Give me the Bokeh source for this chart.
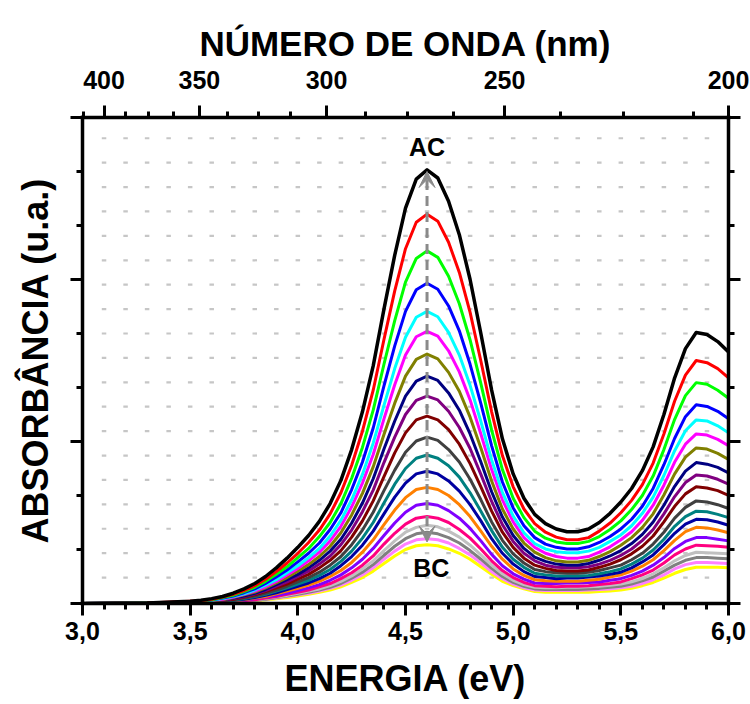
import numpy as np
from bokeh.plotting import figure
from bokeh.models import (LinearAxis, FixedTicker, CustomJSTickFormatter, Arrow, VeeHead)
from bokeh.core.properties import value
from bokeh.embed import file_html
from bokeh.resources import INLINE

FONT = "Liberation Sans"

# ---------------- data ----------------
energy = [3.0, 3.3, 3.5, 3.55, 3.6, 3.65, 3.7, 3.75, 3.8, 3.85, 3.9, 3.95, 4.0, 4.05, 4.1, 4.15,
          4.2, 4.25, 4.3, 4.35, 4.4, 4.45, 4.5, 4.55, 4.6, 4.65, 4.7, 4.75, 4.8, 4.85, 4.9, 4.95,
          5.0, 5.05, 5.1, 5.15, 5.2, 5.25, 5.3, 5.35, 5.4, 5.45, 5.5, 5.55, 5.6, 5.65, 5.7, 5.75,
          5.8, 5.85, 5.9, 5.95, 6.0]

black = [0, 0.1, 0.4, 0.6, 0.9, 1.3, 1.9, 2.7, 3.7, 5.0, 6.6, 8.4, 10.4, 12.6, 15.2, 18.5,
         22.8, 28.5, 35.5, 44.0, 54.5, 64.5, 73.2, 78.6, 80.3, 78.8, 74.5, 68.3, 60.0, 50.0, 39.5, 30.5,
         24.0, 19.5, 16.5, 14.8, 13.8, 13.3, 13.3, 13.8, 15.0, 16.7, 18.8, 21.3, 24.6, 29.0, 35.0, 41.8,
         47.2, 50.2, 49.8, 48.5, 46.6]
red = [0, 0.1, 0.4, 0.5, 0.8, 1.2, 1.7, 2.4, 3.3, 4.5, 5.9, 7.5, 9.3, 11.3, 13.6, 16.6,
       20.5, 25.6, 31.9, 39.5, 48.9, 57.9, 65.7, 70.6, 72.1, 70.8, 66.9, 61.3, 53.9, 44.9, 35.5, 27.4,
       21.6, 17.5, 14.8, 13.2, 12.3, 11.8, 11.8, 12.2, 13.4, 14.9, 16.8, 19.1, 22.0, 26.0, 31.4, 37.5,
       42.3, 45.0, 44.6, 43.5, 41.8]
green = [0, 0.1, 0.3, 0.5, 0.7, 1.1, 1.5, 2.2, 3.0, 4.1, 5.4, 6.8, 8.5, 10.2, 12.4, 15.0,
         18.5, 23.2, 28.9, 35.8, 44.3, 52.4, 59.5, 63.9, 65.3, 64.1, 60.6, 55.5, 48.8, 40.7, 32.1, 24.8,
         19.5, 15.9, 13.4, 12.1, 11.4, 11.1, 11.1, 11.5, 12.4, 13.7, 15.3, 17.4, 20.0, 23.6, 28.5, 34.1,
         38.5, 40.9, 40.6, 39.5, 38.0]
blue = [0, 0.1, 0.3, 0.4, 0.7, 1.0, 1.4, 2.0, 2.7, 3.7, 4.9, 6.2, 7.7, 9.3, 11.2, 13.7,
        16.8, 21.1, 26.2, 32.5, 40.3, 47.7, 54.1, 58.1, 59.3, 58.2, 55.1, 50.5, 44.3, 37.0, 29.2, 22.5,
        17.7, 14.4, 12.2, 11.0, 10.4, 10.1, 10.1, 10.5, 11.3, 12.4, 13.8, 15.6, 18.0, 21.3, 25.7, 30.6,
        34.6, 36.8, 36.5, 35.6, 34.2]
cyan = [0, 0.1, 0.3, 0.4, 0.6, 0.9, 1.3, 1.8, 2.5, 3.4, 4.4, 5.7, 7.0, 8.5, 10.2, 12.5,
        15.4, 19.2, 23.9, 29.7, 36.7, 43.5, 49.3, 53.0, 54.1, 53.1, 50.2, 46.0, 40.4, 33.7, 26.6, 20.6,
        16.2, 13.1, 11.1, 10.1, 9.6, 9.4, 9.4, 9.7, 10.4, 11.5, 12.7, 14.4, 16.7, 19.7, 23.7, 28.3,
        32.0, 34.0, 33.8, 32.9, 31.6]
magenta = [0, 0.1, 0.3, 0.4, 0.6, 0.8, 1.2, 1.7, 2.3, 3.1, 4.1, 5.3, 6.5, 7.9, 9.5, 11.6,
           14.3, 17.9, 22.3, 27.6, 34.2, 40.5, 46.0, 49.4, 50.4, 49.5, 46.8, 42.9, 37.7, 31.4, 24.8, 19.2,
           15.1, 12.2, 10.4, 9.3, 8.7, 8.4, 8.4, 8.7, 9.5, 10.5, 11.8, 13.3, 15.4, 18.2, 21.9, 26.2,
           29.5, 31.4, 31.2, 30.4, 29.2]
olive = [0, 0.1, 0.2, 0.3, 0.5, 0.7, 1.1, 1.6, 2.1, 2.9, 3.8, 4.8, 6.0, 7.2, 8.7, 10.6,
         13.1, 16.4, 20.4, 25.3, 31.3, 37.1, 42.1, 45.2, 46.2, 45.3, 42.8, 39.3, 34.5, 28.8, 22.7, 17.5,
         13.8, 11.2, 9.5, 8.5, 7.9, 7.7, 7.7, 8.0, 8.7, 9.6, 10.8, 12.2, 14.1, 16.6, 20.1, 24.0,
         27.1, 28.8, 28.6, 27.8, 26.7]
navy = [0, 0.1, 0.2, 0.3, 0.5, 0.7, 1.0, 1.4, 1.9, 2.6, 3.5, 4.4, 5.4, 6.6, 8.0, 9.7,
        11.9, 14.9, 18.6, 23.1, 28.6, 33.8, 38.4, 41.2, 42.1, 41.3, 39.0, 35.8, 31.4, 26.2, 20.7, 16.0,
        12.6, 10.2, 8.6, 7.8, 7.3, 7.1, 7.1, 7.4, 8.0, 8.8, 9.8, 11.1, 12.8, 15.1, 18.2, 21.7,
        24.5, 26.1, 25.8, 25.2, 24.2]
purple = [0, 0.0, 0.2, 0.3, 0.4, 0.6, 0.9, 1.3, 1.8, 2.4, 3.2, 4.0, 5.0, 6.0, 7.3, 8.8,
          10.9, 13.6, 17.0, 21.0, 26.1, 30.8, 35.0, 37.6, 38.4, 37.7, 35.6, 32.6, 28.7, 23.9, 18.9, 14.6,
          11.5, 9.3, 7.9, 7.1, 6.7, 6.6, 6.6, 6.8, 7.3, 8.0, 8.9, 10.1, 11.7, 13.7, 16.6, 19.8,
          22.4, 23.8, 23.6, 23.0, 22.1]
wine = [0, 0.0, 0.2, 0.3, 0.4, 0.6, 0.8, 1.2, 1.6, 2.2, 2.9, 3.6, 4.5, 5.4, 6.6, 8.0,
        9.8, 12.3, 15.3, 19.0, 23.5, 27.9, 31.6, 34.0, 34.7, 34.0, 32.2, 29.5, 25.9, 21.6, 17.1, 13.2,
        10.4, 8.4, 7.1, 6.5, 6.1, 6.0, 6.0, 6.2, 6.7, 7.3, 8.1, 9.2, 10.6, 12.5, 15.1, 18.0,
        20.3, 21.6, 21.4, 20.9, 20.0]
darkgray = [0, 0.0, 0.2, 0.2, 0.3, 0.5, 0.7, 1.0, 1.4, 1.9, 2.5, 3.2, 4.0, 4.8, 5.8, 7.1,
            8.7, 10.9, 13.6, 16.9, 20.9, 24.7, 28.0, 30.1, 30.8, 30.2, 28.5, 26.2, 23.0, 19.2, 15.1, 11.7,
            9.2, 7.5, 6.3, 5.9, 5.7, 5.6, 5.6, 5.8, 6.1, 6.6, 7.1, 8.1, 9.3, 11.0, 13.2, 15.8,
            17.8, 19.0, 18.8, 18.3, 17.6]
teal = [0, 0.0, 0.1, 0.2, 0.3, 0.4, 0.6, 0.9, 1.3, 1.7, 2.3, 2.9, 3.6, 4.3, 5.2, 6.3,
        7.8, 9.7, 12.1, 15.0, 18.6, 22.1, 25.0, 26.9, 27.5, 26.9, 25.5, 23.4, 20.5, 17.1, 13.5, 10.4,
        8.2, 6.7, 5.6, 5.3, 5.1, 5.1, 5.1, 5.2, 5.5, 5.9, 6.4, 7.3, 8.4, 9.9, 11.9, 14.3,
        16.1, 17.1, 17.0, 16.5, 15.9]
royal = [0, 0.0, 0.1, 0.2, 0.3, 0.4, 0.6, 0.8, 1.1, 1.5, 2.0, 2.6, 3.2, 3.8, 4.6, 5.6,
         7.0, 8.7, 10.8, 13.4, 16.6, 19.7, 22.3, 24.0, 24.5, 24.0, 22.7, 20.8, 18.3, 15.3, 12.0, 9.3,
         7.3, 5.9, 5.0, 4.8, 4.6, 4.7, 4.7, 4.9, 5.1, 5.4, 5.8, 6.6, 7.7, 9.0, 10.9, 13.0,
         14.7, 15.6, 15.5, 15.1, 14.5]
orange = [0, 0.0, 0.1, 0.2, 0.2, 0.3, 0.5, 0.7, 1.0, 1.3, 1.8, 2.3, 2.8, 3.4, 4.1, 5.0,
          6.1, 7.6, 9.5, 11.8, 14.6, 17.3, 19.6, 21.1, 21.5, 21.1, 20.0, 18.3, 16.1, 13.4, 10.6, 8.2,
          6.4, 5.2, 4.4, 4.2, 4.1, 4.1, 4.1, 4.3, 4.5, 4.9, 5.3, 6.0, 6.9, 8.1, 9.8, 11.7,
          13.3, 14.1, 14.0, 13.6, 13.1]
violet = [0, 0.0, 0.1, 0.1, 0.2, 0.3, 0.4, 0.6, 0.9, 1.2, 1.5, 1.9, 2.4, 2.9, 3.5, 4.3,
          5.3, 6.6, 8.2, 10.2, 12.6, 14.9, 16.9, 18.2, 18.5, 18.2, 17.2, 15.8, 13.9, 11.6, 9.1, 7.0,
          5.5, 4.5, 3.8, 3.7, 3.7, 3.8, 3.8, 3.9, 4.0, 4.3, 4.6, 5.2, 6.0, 7.1, 8.5, 10.2,
          11.5, 12.2, 12.2, 11.9, 11.6]
pink = [0, 0.0, 0.1, 0.1, 0.2, 0.3, 0.4, 0.5, 0.7, 1.0, 1.3, 1.7, 2.1, 2.5, 3.1, 3.7,
        4.6, 5.7, 7.1, 8.8, 11.0, 13.0, 14.7, 15.8, 16.1, 15.8, 15.0, 13.7, 12.1, 10.1, 7.9, 6.1,
        4.8, 3.9, 3.3, 3.2, 3.1, 3.2, 3.2, 3.3, 3.5, 3.7, 4.0, 4.6, 5.3, 6.2, 7.5, 9.0,
        10.1, 10.8, 10.7, 10.6, 10.4]
ltgray = [0, 0.0, 0.1, 0.1, 0.2, 0.2, 0.3, 0.5, 0.7, 0.9, 1.2, 1.5, 1.9, 2.3, 2.7, 3.3,
          4.1, 5.1, 6.4, 7.9, 9.8, 11.6, 13.2, 14.1, 14.5, 14.2, 13.4, 12.3, 10.8, 9.0, 7.1, 5.5,
          4.3, 3.5, 3.0, 2.9, 2.9, 3.0, 3.0, 3.1, 3.2, 3.4, 3.6, 4.0, 4.6, 5.5, 6.6, 7.9,
          8.9, 9.5, 9.4, 9.3, 9.2]
gray = [0, 0.0, 0.1, 0.1, 0.1, 0.2, 0.3, 0.4, 0.6, 0.8, 1.1, 1.4, 1.7, 2.1, 2.5, 3.0,
        3.7, 4.7, 5.8, 7.2, 8.9, 10.6, 12.0, 12.9, 13.2, 12.9, 12.2, 11.2, 9.8, 8.2, 6.5, 5.0,
        3.9, 3.2, 2.7, 2.6, 2.6, 2.6, 2.6, 2.7, 2.8, 3.0, 3.2, 3.6, 4.2, 4.9, 6.0, 7.1,
        8.0, 8.5, 8.5, 8.4, 8.3]
ltmagenta = [0, 0.0, 0.1, 0.1, 0.1, 0.2, 0.3, 0.4, 0.6, 0.8, 1.0, 1.3, 1.6, 1.9, 2.3, 2.8,
             3.4, 4.3, 5.3, 6.6, 8.2, 9.7, 11.0, 11.8, 12.0, 11.8, 11.2, 10.2, 9.0, 7.5, 5.9, 4.6,
             3.6, 2.9, 2.5, 2.4, 2.4, 2.4, 2.4, 2.5, 2.6, 2.7, 2.9, 3.2, 3.7, 4.4, 5.3, 6.4,
             7.2, 7.6, 7.6, 7.5, 7.4]
yellow = [0, 0.0, 0.1, 0.1, 0.1, 0.2, 0.3, 0.4, 0.5, 0.7, 0.9, 1.1, 1.4, 1.7, 2.1, 2.5,
          3.1, 3.9, 4.8, 6.0, 7.4, 8.8, 10.0, 10.7, 10.9, 10.7, 10.1, 9.3, 8.2, 6.8, 5.4, 4.1,
          3.3, 2.7, 2.2, 2.1, 2.1, 2.1, 2.1, 2.1, 2.2, 2.3, 2.5, 2.8, 3.3, 3.9, 4.7, 5.6,
          6.3, 6.7, 6.7, 6.7, 6.6]

series = [black, red, green, blue, cyan, magenta, olive, navy, purple, wine,
          darkgray, teal, royal, orange, violet, pink, ltgray, gray, ltmagenta, yellow]
colors = ["#000000", "#ff0000", "#00ff00", "#0000ff", "#00ffff", "#ff00ff", "#808000",
          "#000080", "#800080", "#800000", "#404040", "#008080", "#0000a0", "#ff8000",
          "#8000ff", "#ff0080", "#c0c0c0", "#808080", "#ff80ff", "#ffff00"]

energy_major = [3.0, 3.5, 4.0, 4.5, 5.0, 5.5, 6.0]
energy_minor = [round(3.0 + 0.1 * k, 1) for k in range(31)]
wave_major_nm = [400, 350, 300, 250]
wave_major_labels = ["400", "350", "300", "250", "200"]
wave_minor_nm = [412.5, 387.5, 375, 362.5, 337.5, 325, 312.5, 287.5, 275, 262.5, 237.5, 225, 212.5]
y_major = [0, 30, 60, 90]
y_minor = [10, 20, 40, 50, 70, 80]

arrow_x, arrow_top, arrow_bottom = 4.6, 80.0, 11.4
label_ac = ("AC", 4.6, 84.6)
label_bc = ("BC", 4.62, 6.6)

# ---------------- figure ----------------
p = figure(width=750, height=704, x_range=(3.0, 6.0), y_range=(0, 90),
           output_backend="svg", toolbar_location=None,
           x_axis_location=None, y_axis_location=None,
           min_border_left=82, min_border_right=22, min_border_top=117, min_border_bottom=101)
p.outline_line_color = None
p.grid.visible = False
p.background_fill_color = "white"
p.border_fill_color = "white"


def style_axis(ax, tick_font="25px", label_font="36px"):
    ax.axis_line_width = 3.5
    ax.axis_line_color = "black"
    ax.axis_line_cap = "square"
    ax.major_tick_line_width = 3
    ax.minor_tick_line_width = 3
    ax.major_tick_line_color = "black"
    ax.minor_tick_line_color = "black"
    ax.major_tick_in = 0
    ax.major_tick_out = 12
    ax.minor_tick_in = 0
    ax.minor_tick_out = 6
    ax.major_label_text_font = FONT
    ax.major_label_text_font_style = "bold"
    ax.major_label_text_font_size = tick_font
    ax.major_label_text_color = "black"
    ax.axis_label_text_font = FONT
    ax.axis_label_text_font_style = "bold"
    ax.axis_label_text_font_size = label_font
    ax.axis_label_text_color = "black"


blank = CustomJSTickFormatter(code="return '';")

# bottom: energy
xb = LinearAxis(ticker=FixedTicker(ticks=energy_major, minor_ticks=energy_minor),
                formatter=CustomJSTickFormatter(code="return tick.toFixed(1).replace('.', ',');"),
                axis_label="ENERGIA (eV)")
style_axis(xb, label_font="36px")
xb.major_label_standoff = 6
xb.axis_label_standoff = 15
p.add_layout(xb, "below")

# top: wavelength
top_pos = [1240.0 / w for w in wave_major_nm] + [6.0]
top_minor = [1240.0 / w for w in wave_minor_nm]
xt = LinearAxis(ticker=FixedTicker(ticks=top_pos, minor_ticks=top_minor),
                formatter=CustomJSTickFormatter(
                    args=dict(pos=top_pos, lab=wave_major_labels),
                    code="""
let best = 0, d = 1e9;
for (let i = 0; i < pos.length; i++) { const e = Math.abs(pos[i] - tick); if (e < d) { d = e; best = i; } }
return lab[best];"""),
                axis_label="NÚMERO DE ONDA (nm)")
style_axis(xt, label_font="35px")
xt.major_label_standoff = 17
xt.axis_label_standoff = 5
p.add_layout(xt, "above")

# left (with title) / right
yl = LinearAxis(ticker=FixedTicker(ticks=y_major, minor_ticks=y_minor), formatter=blank,
                axis_label="ABSORBÂNCIA (u.a.)")
style_axis(yl, label_font="36px")
yl.major_label_standoff = 0
yl.axis_label_standoff = 15
p.add_layout(yl, "left")

yr = LinearAxis(ticker=FixedTicker(ticks=y_major, minor_ticks=y_minor), formatter=blank)
style_axis(yr)
yr.major_label_standoff = 0
p.add_layout(yr, "right")

# dotted grid (decoration)
grid_x = np.round(np.arange(3.1, 5.95, 0.1), 2)
grid_y = 4.8 + 4.52 * np.arange(19)
gx, gy = np.meshgrid(grid_x, grid_y)
p.scatter(gx.ravel(), gy.ravel(), marker="dash", size=4.5, line_color="#c6c6c6", line_width=2.2)

# curves: lowest first, black on top
for ys, c in reversed(list(zip(series, colors))):
    p.line(energy, ys, line_color=c, line_width=3.5 if c == "#000000" else 3,
           line_join="round", line_cap="round")

# arrow
arr_col = "#8a8a8a"
p.add_layout(Arrow(x_start=arrow_x, y_start=arrow_bottom, x_end=arrow_x, y_end=arrow_top,
                   line_color=arr_col, line_width=3, line_dash="10 6",
                   start=VeeHead(size=16, fill_color=arr_col, line_color=arr_col, line_width=1),
                   end=VeeHead(size=16, fill_color=arr_col, line_color=arr_col, line_width=1)))

for txt, tx, ty in (label_ac, label_bc):
    p.text(x=[tx], y=[ty], text=[txt], text_font=value(FONT), text_font_style="bold",
           text_font_size="25px", text_color="black", text_align="center",
           text_baseline="middle")

open("out.html", "w").write(file_html(p, INLINE))
